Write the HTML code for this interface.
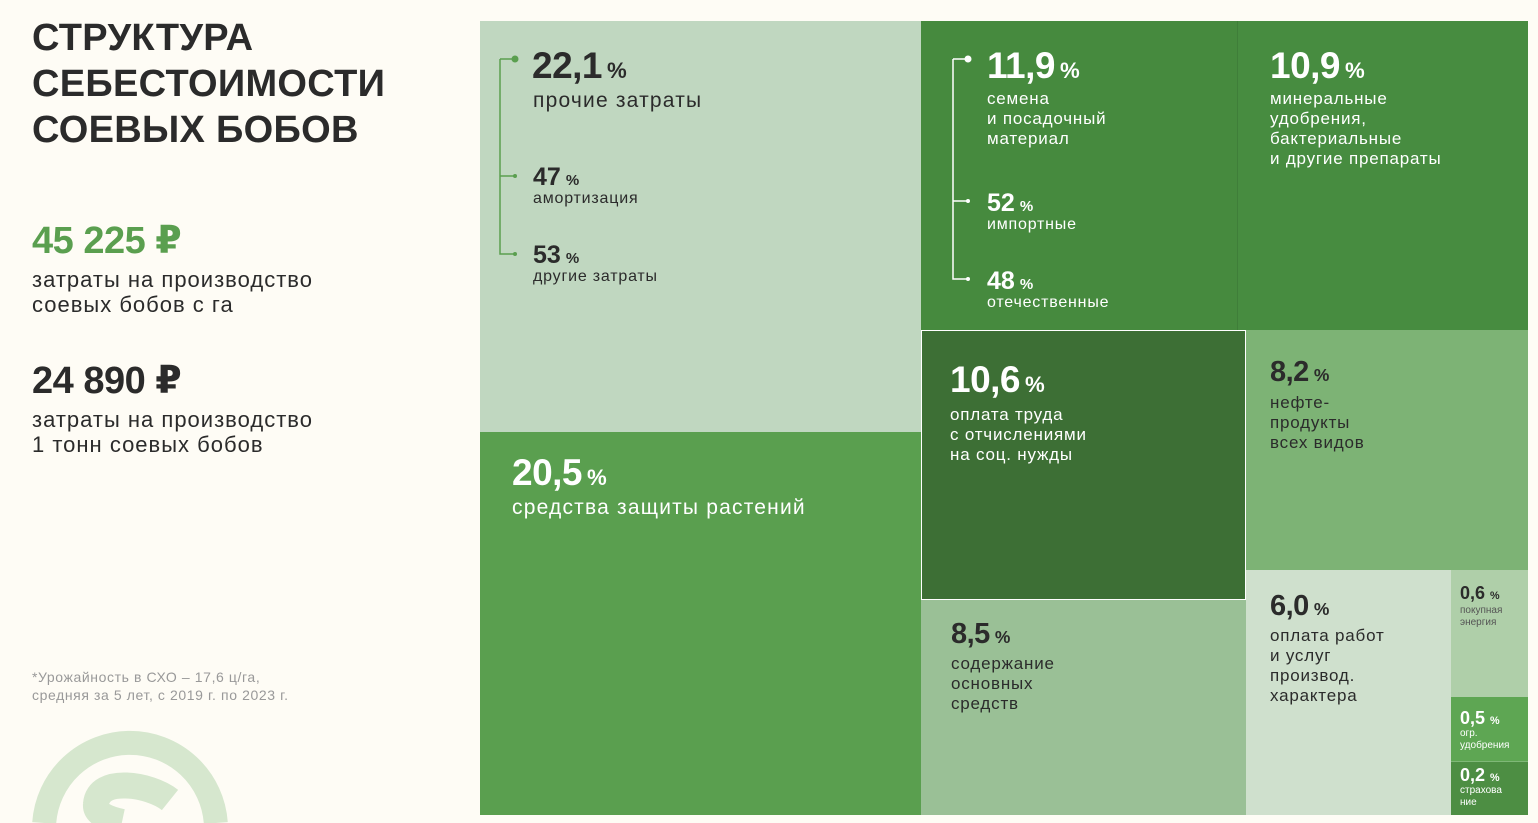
<!DOCTYPE html>
<html><head><meta charset="utf-8">
<style>
html,body{margin:0;width:1538px;height:823px;overflow:hidden}
body{background:#fefcf5;font-family:"Liberation Sans","DejaVu Sans",sans-serif;position:relative;color:#2b2b2b}
.abs{position:absolute}
svg{display:block}
.t{position:absolute;box-sizing:border-box;overflow:hidden}
.big{font-weight:bold;letter-spacing:-0.5px;line-height:1}
.big span{font-size:0.6em;letter-spacing:0;margin-left:5px}
.lbl{letter-spacing:0.8px}
.w{color:#fff}
</style></head><body>
<div class="abs" style="left:32px;top:15px;font-size:38px;font-weight:bold;line-height:46px;letter-spacing:0.3px;color:#2b2b2b">СТРУКТУРА<br>СЕБЕСТОИМОСТИ<br>СОЕВЫХ БОБОВ</div>
<div class="abs big" style="left:32px;top:222px;font-size:38px;color:#5a9f4f">45 225 ₽</div>
<div class="abs lbl" style="left:32px;top:267px;font-size:22px;line-height:25px;letter-spacing:1px">затраты на производство<br>соевых бобов с га</div>
<div class="abs big" style="left:32px;top:362px;font-size:38px">24 890 ₽</div>
<div class="abs lbl" style="left:32px;top:407px;font-size:22px;line-height:25px;letter-spacing:1px">затраты на производство<br>1 тонн соевых бобов</div>
<div class="abs" style="left:32px;top:668px;font-size:14px;line-height:18px;letter-spacing:0.6px;color:#999">*Урожайность в СХО – 17,6 ц/га,<br>средняя за 5 лет, с 2019 г. по 2023 г.</div>
<svg class="abs" style="left:0;top:700px" width="300" height="123">
<path d="M44.2 123 A86 86 0 0 1 215.8 123" fill="none" stroke="#d6e7ce" stroke-width="24"/>
<path d="M170 100 C150 84 98 76 96 104 C95 114 108 119 122 122" fill="none" stroke="#d6e7ce" stroke-width="26"/>
</svg>

<div id="tm">
<div class="t" style="left:480px;top:21px;width:441px;height:411px;background:#c0d7c0">
 <svg class="abs" style="left:14px;top:30px" width="30" height="210"><path d="M6 8H21M6 8V203H21M6 125H21" stroke="#5a9f4f" stroke-width="1.5" fill="none"/><circle cx="21" cy="8" r="3.5" fill="#5a9f4f"/><circle cx="21" cy="125" r="2" fill="#5a9f4f"/><circle cx="21" cy="203" r="2" fill="#5a9f4f"/></svg>
 <div class="abs big" style="left:52px;top:26px;font-size:37px">22,1<span>%</span></div>
 <div class="abs lbl" style="left:53px;top:68px;font-size:21px;letter-spacing:1.2px">прочие затраты</div>
 <div class="abs big" style="left:53px;top:144px;font-size:25px;letter-spacing:0">47<span>%</span></div>
 <div class="abs lbl" style="left:53px;top:169px;font-size:16px">амортизация</div>
 <div class="abs big" style="left:53px;top:222px;font-size:25px;letter-spacing:0">53<span>%</span></div>
 <div class="abs lbl" style="left:53px;top:247px;font-size:16px">другие затраты</div>
</div>
<div class="t w" style="left:480px;top:432px;width:441px;height:383px;background:#5a9f4f">
 <div class="abs big" style="left:32px;top:22px;font-size:37px">20,5<span>%</span></div>
 <div class="abs lbl" style="left:32px;top:64px;font-size:21px;letter-spacing:1.2px">средства защиты растений</div>
</div>
<div class="t w" style="left:921px;top:21px;width:316px;height:309px;background:#468a3e">
 <svg class="abs" style="left:26px;top:30px" width="30" height="235"><path d="M6 8H21M6 8V228H21M6 150H21" stroke="#fff" stroke-width="1.5" fill="none"/><circle cx="21" cy="8" r="3.5" fill="#fff"/><circle cx="21" cy="150" r="2" fill="#fff"/><circle cx="21" cy="228" r="2" fill="#fff"/></svg>
 <div class="abs big" style="left:66px;top:26px;font-size:37px">11,9<span>%</span></div>
 <div class="abs lbl" style="left:66px;top:68px;font-size:17px;line-height:20px">семена<br>и посадочный<br>материал</div>
 <div class="abs big" style="left:66px;top:170px;font-size:25px;letter-spacing:0">52<span>%</span></div>
 <div class="abs lbl" style="left:66px;top:195px;font-size:16px">импортные</div>
 <div class="abs big" style="left:66px;top:248px;font-size:25px;letter-spacing:0">48<span>%</span></div>
 <div class="abs lbl" style="left:66px;top:273px;font-size:16px">отечественные</div>
</div>
<div class="t w" style="left:1237px;top:21px;width:291px;height:309px;background:#478c40;border-left:1px solid #3f7e39">
 <div class="abs big" style="left:32px;top:26px;font-size:37px">10,9<span>%</span></div>
 <div class="abs lbl" style="left:32px;top:68px;font-size:17px;line-height:20px">минеральные<br>удобрения,<br>бактериальные<br>и другие препараты</div>
</div>
<div class="t w" style="left:921px;top:330px;width:325px;height:270px;background:#3d6f35;border:1px solid #fff">
 <div class="abs big" style="left:28px;top:30px;font-size:37px">10,6<span>%</span></div>
 <div class="abs lbl" style="left:28px;top:74px;font-size:17px;line-height:20px">оплата труда<br>с отчислениями<br>на соц. нужды</div>
</div>
<div class="t" style="left:1246px;top:330px;width:282px;height:240px;background:#7db375">
 <div class="abs big" style="left:24px;top:28px;font-size:29px">8,2<span>%</span></div>
 <div class="abs lbl" style="left:24px;top:63px;font-size:17px;line-height:20px">нефте-<br>продукты<br>всех видов</div>
</div>
<div class="t" style="left:921px;top:600px;width:325px;height:215px;background:#9ac096">
 <div class="abs big" style="left:30px;top:20px;font-size:29px">8,5<span>%</span></div>
 <div class="abs lbl" style="left:30px;top:54px;font-size:17px;line-height:20px">содержание<br>основных<br>средств</div>
</div>
<div class="t" style="left:1246px;top:570px;width:205px;height:245px;background:#cfe0cd">
 <div class="abs big" style="left:24px;top:22px;font-size:29px">6,0<span>%</span></div>
 <div class="abs lbl" style="left:24px;top:56px;font-size:17px;line-height:20px">оплата работ<br>и услуг<br>производ.<br>характера</div>
</div>
<div class="t" style="left:1451px;top:570px;width:77px;height:127px;background:#afcfa9">
 <div class="abs big" style="left:9px;top:14px;font-size:18px;letter-spacing:0">0,6<span>%</span></div>
 <div class="abs" style="left:9px;top:35px;font-size:10px;line-height:12px;color:#555">покупная<br>энергия</div>
</div>
<div class="t w" style="left:1451px;top:697px;width:77px;height:64px;background:#5ea653">
 <div class="abs big" style="left:9px;top:12px;font-size:18px;letter-spacing:0">0,5<span>%</span></div>
 <div class="abs" style="left:9px;top:31px;font-size:10px;line-height:12px">огр.<br>удобрения</div>
</div>
<div class="t w" style="left:1451px;top:761px;width:77px;height:54px;background:#4d8e43;border-top:1px solid #7fb877">
 <div class="abs big" style="left:9px;top:4px;font-size:18px;letter-spacing:0">0,2<span>%</span></div>
 <div class="abs" style="left:9px;top:23px;font-size:10px;line-height:12px">страхова<br>ние</div>
</div>
</div>
</body></html>
